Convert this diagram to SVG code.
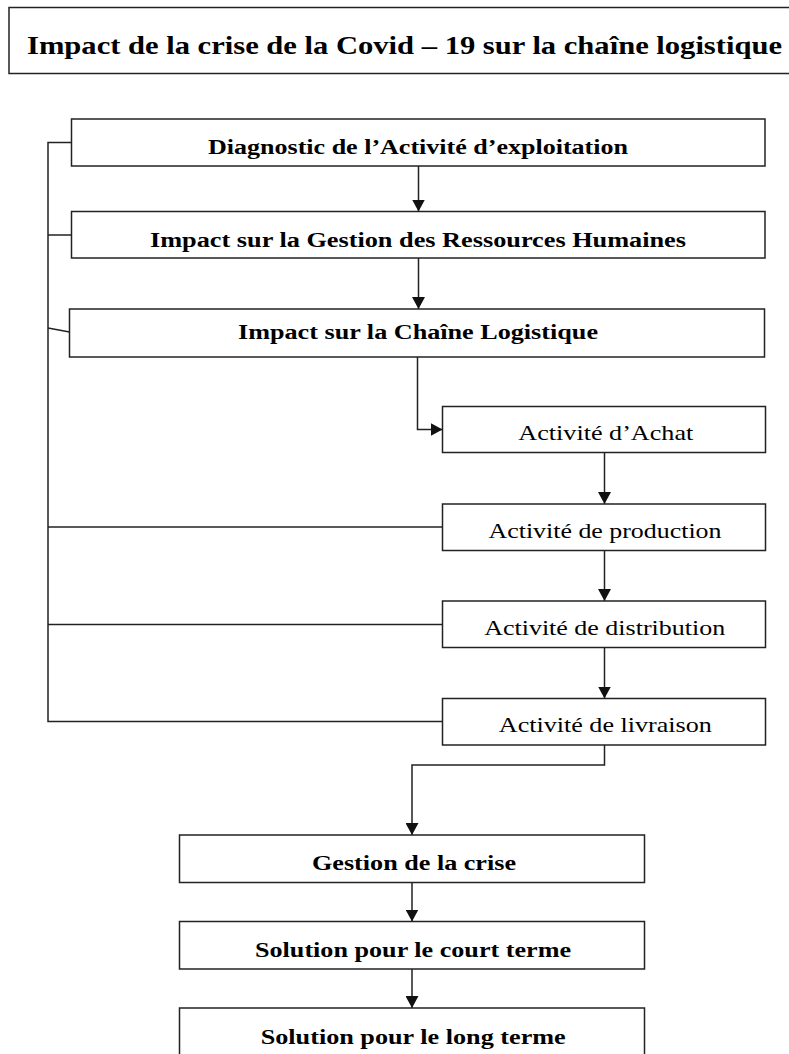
<svg xmlns="http://www.w3.org/2000/svg" width="789" height="1054" viewBox="0 0 789 1054">
<style>
.box{fill:#fff;stroke:#222;stroke-width:1.5}
.ln{fill:none;stroke:#222;stroke-width:1.5}
.arr{marker-end:url(#ah)}
.b{font-family:"Liberation Serif","Times New Roman",serif;font-weight:bold;font-size:20px;fill:#000;text-anchor:middle}
.r{font-family:"Liberation Serif","Times New Roman",serif;font-size:22px;fill:#000;text-anchor:middle}
.t{font-family:"Liberation Serif","Times New Roman",serif;font-weight:bold;font-size:26px;fill:#000;text-anchor:start}
</style>
<defs>
<marker id="ah" markerUnits="userSpaceOnUse" markerWidth="13" markerHeight="13" refX="12" refY="6.5" orient="auto">
<path d="M0,0 L12,6.5 L0,13 z" fill="#111"/>
</marker>
</defs>
<rect width="789" height="1054" fill="#fff"/>
<g id="title">
<rect class="box" x="9" y="7.5" width="800" height="66"/>
<text class="t" x="27" y="54" textLength="755" lengthAdjust="spacingAndGlyphs">Impact de la crise de la Covid – 19 sur la chaîne logistique</text>
</g>
<g id="connectors">
<path class="ln arr" d="M418.5 166 V211.5"/>
<path class="ln arr" d="M418.5 258 V309"/>
<path class="ln arr" d="M417.5 357 V429.5 H442.5"/>
<path class="ln arr" d="M604.5 452.5 V504"/>
<path class="ln arr" d="M604.5 550.5 V601"/>
<path class="ln arr" d="M604.5 647.5 V698.5"/>
<path class="ln arr" d="M604.5 745 V765 H412 V835"/>
<path class="ln arr" d="M412 882.5 V921.5"/>
<path class="ln arr" d="M412 969 V1008"/>
<path class="ln" d="M71.5 142.5 H48 V721.5 H442.5"/>
<path class="ln" d="M48 235 H71.5"/>
<path class="ln" d="M48 328 L69.5 332"/>
<path class="ln" d="M48 527 H442.5"/>
<path class="ln" d="M48 624.5 H442.5"/>
</g>
<g id="n1">
<rect class="box" x="71.5" y="119" width="693.5" height="47"/>
<text class="b" x="418" y="153.5" textLength="420" lengthAdjust="spacingAndGlyphs">Diagnostic de l’Activité d’exploitation</text>
</g>
<g id="n2">
<rect class="box" x="71.5" y="211.5" width="693.5" height="46.5"/>
<text class="b" x="418" y="246.5" textLength="536" lengthAdjust="spacingAndGlyphs">Impact sur la Gestion des Ressources Humaines</text>
</g>
<g id="n3">
<rect class="box" x="69.5" y="309" width="695" height="48"/>
<text class="b" x="418" y="338.5" textLength="360" lengthAdjust="spacingAndGlyphs">Impact sur la Chaîne Logistique</text>
</g>
<g id="achat">
<rect class="box" x="442.5" y="406.5" width="323" height="46"/>
<text class="r" x="605.8" y="440" textLength="175" lengthAdjust="spacingAndGlyphs">Activité d’Achat</text>
</g>
<g id="production">
<rect class="box" x="442.5" y="504" width="323" height="46.5"/>
<text class="r" x="605" y="537.5" textLength="233" lengthAdjust="spacingAndGlyphs">Activité de production</text>
</g>
<g id="distribution">
<rect class="box" x="442.5" y="601" width="323" height="46.5"/>
<text class="r" x="604.7" y="635" textLength="241" lengthAdjust="spacingAndGlyphs">Activité de distribution</text>
</g>
<g id="livraison">
<rect class="box" x="442.5" y="698.5" width="323" height="46.5"/>
<text class="r" x="605.3" y="732" textLength="213" lengthAdjust="spacingAndGlyphs">Activité de livraison</text>
</g>
<g id="gestion">
<rect class="box" x="179.5" y="835" width="465" height="47.5"/>
<text class="b" x="414" y="870" textLength="204" lengthAdjust="spacingAndGlyphs">Gestion de la crise</text>
</g>
<g id="court">
<rect class="box" x="179.5" y="921.5" width="465" height="47.5"/>
<text class="b" x="413" y="957" textLength="316" lengthAdjust="spacingAndGlyphs">Solution pour le court terme</text>
</g>
<g id="long">
<rect class="box" x="179.5" y="1008" width="465" height="60"/>
<text class="b" x="413.2" y="1044" textLength="305" lengthAdjust="spacingAndGlyphs">Solution pour le long terme</text>
</g>
</svg>
